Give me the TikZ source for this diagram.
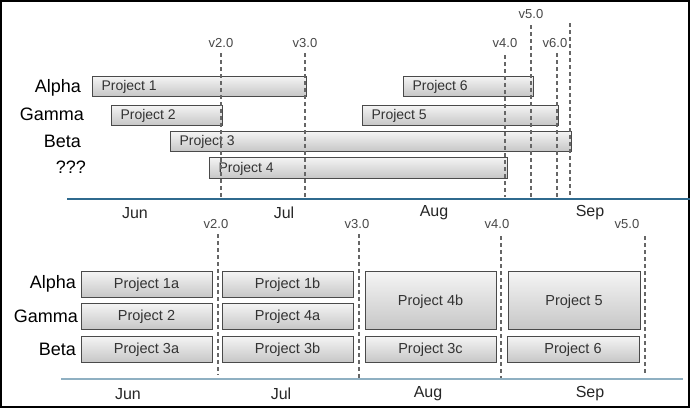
\documentclass[tikz,border=0pt]{standalone}
\usepackage{fontspec}
\setmainfont{Liberation Sans}
\usetikzlibrary{shadows}
\definecolor{topline}{HTML}{2F6A8E}
\definecolor{botline}{HTML}{8FB0C2}
\definecolor{barborder}{HTML}{4A4A4A}
\begin{document}
\begin{tikzpicture}[x=1pt,y=-1pt,
  bar/.style={draw=barborder,line width=0.9pt,top color=white!96!black,bottom color=black!22,
    drop shadow={shadow xshift=0.8pt,shadow yshift=-0.8pt,opacity=0.25}},
  bartext/.style={font=\fontsize{14}{16}\selectfont,text=black!80},
  boxtext/.style={font=\fontsize{14.5}{16}\selectfont,text=black!80},
  rowlab/.style={font=\fontsize{18}{20}\selectfont,anchor=east,inner sep=0pt},
  vlab/.style={font=\fontsize{13}{15}\selectfont,text=black!72,inner sep=0pt},
  mlab/.style={font=\fontsize{16}{18}\selectfont,text=black!85,inner sep=0pt},
  vline/.style={black!60,line width=1.1pt,dash pattern=on 4pt off 3pt},
]
\useasboundingbox (0,0) rectangle (690,408);
\draw[black,line width=1.5pt] (1,1) rectangle (689,407);

% ---------- top section ----------
\foreach \n/\x/\yt in {a/221/53, b/305/53, c/505/55, d/531/25, e/557/53}{
  \coordinate (tv\n top) at (\x,\yt);
  \coordinate (tv\n bot) at (\x,197);
}
\coordinate (tvftop) at (570,23);
\coordinate (tvfbot) at (570,197);
\node[vlab] (tv2) at (221,43) {v2.0};
\node[vlab] (tv3) at (305,43) {v3.0};
\node[vlab] (tv4) at (505,43) {v4.0};
\node[vlab] (tv5) at (531,14) {v5.0};
\node[vlab] (tv6) at (555,43) {v6.0};

% bars
\draw[bar] (92,76) rectangle (306,96);
\draw[bar] (111,105) rectangle (222,125);
\draw[bar] (170,131) rectangle (571,151);
\draw[bar] (209,157) rectangle (507,178);
\draw[bar] (403,76) rectangle (533,96);
\draw[bar] (362,105) rectangle (558,125);
\node[bartext,anchor=west] (p1) at (98,87) {Project 1};
\node[bartext,anchor=west] (p2) at (117,116) {Project 2};
\node[bartext,anchor=west] (p3) at (176,142) {Project 3};
\node[bartext,anchor=west] (p4) at (215,169) {Project 4};
\node[bartext,anchor=west] (p6) at (409,87) {Project 6};
\node[bartext,anchor=west] (p5) at (368,116) {Project 5};

\foreach \n in {a,b,c,d,e,f}{\draw[vline] (tv\n top) -- (tv\n bot);}

\node[rowlab] (ta) at (81,88) {Alpha};
\node[rowlab] (tg) at (84,114) {Gamma};
\node[rowlab] (tb) at (81,141) {Beta};
\node[rowlab] (tq) at (86,167) {???};

\coordinate (tl1) at (67,199);
\coordinate (tl2) at (690,199);
\draw[topline,line width=1.3pt] (tl1) -- (tl2);
\node[mlab] (tjun) at (135,213) {Jun};
\node[mlab] (tjul) at (284,213) {Jul};
\node[mlab] (taug) at (434,213) {Aug};
\node[mlab] (tsep) at (590,213) {Sep};

% ---------- bottom section ----------
\node[vlab] (bv2) at (216,224) {v2.0};
\node[vlab] (bv3) at (357,224) {v3.0};
\node[vlab] (bv4) at (497,224) {v4.0};
\node[vlab] (bv5) at (627,224) {v5.0};
\coordinate (bvatop) at (218,234); \coordinate (bvabot) at (218,375);
\coordinate (bvbtop) at (359,234); \coordinate (bvbbot) at (359,380);
\coordinate (bvctop) at (501,236); \coordinate (bvcbot) at (501,380);
\coordinate (bvdtop) at (645,236); \coordinate (bvdbot) at (645,375);

\foreach \x in {81,222}{
  \draw[bar] (\x,271) rectangle (\x+131,297);
  \draw[bar] (\x,303) rectangle (\x+131,329);
  \draw[bar] (\x,336) rectangle (\x+131,362);
}
\draw[bar] (365,271) rectangle (496,329);
\draw[bar] (365,336) rectangle (496,362);
\draw[bar] (508,271) rectangle (640,329);
\draw[bar] (507,336) rectangle (639,362);

\node[boxtext] (b1a) at (146.5,285) {Project 1a};
\node[boxtext] (b2)  at (146.5,317) {Project 2};
\node[boxtext] (b3a) at (146.5,350) {Project 3a};
\node[boxtext] (b1b) at (287.5,285) {Project 1b};
\node[boxtext] (b4a) at (287.5,317) {Project 4a};
\node[boxtext] (b3b) at (287.5,350) {Project 3b};
\node[boxtext] (b4b) at (430.5,302) {Project 4b};
\node[boxtext] (b3c) at (430.5,350) {Project 3c};
\node[boxtext] (b5)  at (574,302) {Project 5};
\node[boxtext] (b6)  at (573,350) {Project 6};

\foreach \n in {a,b,c,d}{\draw[vline] (bv\n top) -- (bv\n bot);}

\node[rowlab] (ba) at (76,284) {Alpha};
\node[rowlab] (bg) at (78,316) {Gamma};
\node[rowlab] (bb) at (76,349) {Beta};

\coordinate (bl1) at (61,379);
\coordinate (bl2) at (683,379);
\draw[botline,line width=1.3pt] (bl1) -- (bl2);
\node[mlab] (bjun) at (128,394) {Jun};
\node[mlab] (bjul) at (281,394) {Jul};
\node[mlab] (baug) at (428,394) {Aug};
\node[mlab] (bsep) at (590,394) {Sep};
\end{tikzpicture}
\end{document}
